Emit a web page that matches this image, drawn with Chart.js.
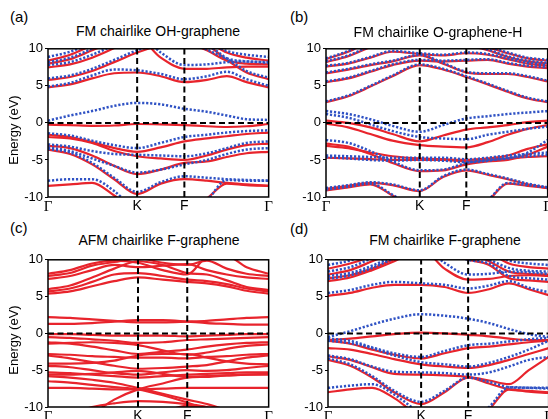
<!DOCTYPE html>
<html><head><meta charset="utf-8">
<script src="https://cdn.jsdelivr.net/npm/chart.js@4.4.1/dist/chart.umd.min.js"></script>
<style>
html,body{margin:0;padding:0;background:#fff;overflow:hidden;width:548px;height:419px;}
.cv{position:absolute;}
.lab{position:absolute;font-family:"Liberation Sans",Arial,sans-serif;color:#000;white-space:nowrap;line-height:1;}
</style></head><body>
<canvas id="ca" class="cv"></canvas>
<canvas id="cb" class="cv"></canvas>
<canvas id="cc" class="cv"></canvas>
<canvas id="cd" class="cv"></canvas>
<div class="lab" style="left:10px;top:9px;font-size:15px;">(a)</div>
<div class="lab" style="left:290px;top:9px;font-size:15px;">(b)</div>
<div class="lab" style="left:10px;top:220px;font-size:15px;">(c)</div>
<div class="lab" style="left:290px;top:221px;font-size:15px;">(d)</div>
<div class="lab" style="left:158px;top:24px;font-size:14px;transform:translateX(-50%);">FM chairlike OH-graphene</div>
<div class="lab" style="left:438px;top:25px;font-size:14px;transform:translateX(-50%);">FM chairlike O-graphene-H</div>
<div class="lab" style="left:159px;top:233px;font-size:14px;transform:translateX(-50%);">AFM chairlike F-graphene</div>
<div class="lab" style="left:445px;top:233px;font-size:14px;transform:translateX(-50%);">FM chairlike F-graphene</div>
<div class="lab" style="left:13px;top:130px;font-size:13px;transform:translate(-50%,-50%) rotate(-90deg);">Energy (eV)</div>
<div class="lab" style="left:13px;top:340px;font-size:13px;transform:translate(-50%,-50%) rotate(-90deg);">Energy (eV)</div>
<script>
// ---- tick labels ----
const kLabels = ['Γ', 'K', 'F', 'Γ'];
const yTicks = [-10, -7.5, -5, -2.5, 0, 2.5, 5, 7.5, 10];

// ---- k-path sample positions (fraction of path) ----
const kpathA = [0, 0.1, 0.2, 0.3, 0.404, 0.511, 0.618, 0.72, 0.81, 0.9, 1];
const kpathB = [0, 0.1, 0.2, 0.3, 0.423, 0.528, 0.633, 0.73, 0.82, 0.91, 1];
const kpathC = [0, 0.1, 0.2, 0.3, 0.408, 0.52, 0.631, 0.72, 0.81, 0.9, 1];
const kpathD = [0, 0.1, 0.2, 0.3, 0.422, 0.528, 0.635, 0.73, 0.82, 0.91, 1];
const kposA = [0, 0.404, 0.618, 1];
const kposB = [0, 0.423, 0.633, 1];
const kposC = [0, 0.408, 0.631, 1];
const kposD = [0, 0.422, 0.635, 1];

// ---- (a) FM chairlike OH-graphene ----
const upA = [
 [-0.25,-0.3,-0.4,-0.35,-0.15,-0.2,-0.3,-0.45,-0.55,-0.45,-0.15],
 [-1.6,-1.9,-2.6,-3.4,-3.9,-3.3,-2.5,-2.1,-1.8,-1.5,-1.3],
 [-1.9,-2.1,-2.7,-3.8,-4.5,-4.8,-5.0,-4.4,-3.6,-3.0,-2.8],
 [-3.1,-3.4,-4.4,-5.8,-6.9,-6.3,-5.4,-5.2,-4.6,-4.1,-3.9],
 [-3.6,-4.2,-5.6,-7.6,-9.6,-8.2,-7.6,-7.8,-8.1,-8.3,-8.5],
 [-8.5,-8.3,-8.1,-9.8,-12,-13,-12,-10.2,-8.2,-8.4,-8.5],
 [4.8,5.2,6.0,6.7,6.8,6.3,5.5,5.8,6.3,5.5,4.8],
 [5.8,6.2,7.0,8.2,9.5,10.5,11,10.5,8.5,6.8,5.9],
 [7.5,7.9,8.8,10.1,11.5,8.8,7.3,7.3,7.5,7.6,7.6],
 [8.0,8.6,9.8,11,12,12,11,9.8,8.4,8.0,7.9],
 [8.4,9.2,10.5,12,12,12,12,11,9.5,8.8,8.4]
];
const downA = [
 [0.3,1.0,1.6,2.3,2.7,2.5,1.9,1.5,1.0,0.5,0.4],
 [-1.4,-1.7,-2.4,-3.0,-3.4,-2.7,-1.9,-1.6,-1.3,-1.1,-1.0],
 [-2.9,-3.2,-3.8,-4.2,-4.3,-4.4,-4.5,-4.1,-3.4,-2.7,-2.5],
 [-3.3,-3.8,-4.8,-5.8,-6.7,-6.3,-5.6,-5.0,-4.2,-3.6,-3.4],
 [-3.5,-4.0,-5.4,-7.4,-9.3,-8.0,-7.2,-7.4,-7.6,-7.7,-7.8],
 [-7.8,-7.6,-7.6,-9.2,-12,-13,-12,-10.4,-7.7,-7.8,-7.8],
 [4.9,5.4,6.4,7.2,7.1,6.6,5.9,6.3,6.9,5.9,5.0],
 [6.0,6.4,7.3,8.5,9.8,10.8,11,10.5,8.7,7.0,6.1],
 [7.8,8.2,9.2,10.5,12,9.5,7.8,7.9,8.2,8.3,8.1],
 [8.2,8.8,10.0,11.2,12,12,11,9.9,8.7,8.3,8.2],
 [8.9,9.6,10.8,12,12,12,12,11,9.7,9.2,8.9]
];

// ---- (b) FM chairlike O-graphene-H ----
const upB = [
 [2.8,3.6,4.9,6.3,7.8,7.2,6.2,5.2,4.2,3.3,2.8],
 [5.5,6.0,6.9,7.8,8.4,8.3,8.4,8.5,8.0,7.6,7.4],
 [6.7,7.2,7.8,8.3,9.1,8.0,6.8,6.6,6.6,6.2,5.6],
 [7.6,8.0,8.8,9.6,9.3,9.1,9.4,9.2,8.6,8.0,7.7],
 [8.2,9.0,10.2,11,11,11,10.5,9.8,8.9,8.3,8.0],
 [8.6,9.6,11,12,12,12,11,10.2,9.4,8.7,8.4],
 [0.3,0.0,-0.6,-1.5,-2.5,-1.7,-0.9,-0.6,-0.3,0.1,0.3],
 [-0.1,-0.6,-1.5,-2.4,-3.0,-3.2,-3.3,-2.6,-1.6,-0.8,-0.3],
 [-2.8,-3.2,-4.2,-5.4,-6.5,-6.4,-5.6,-5.2,-5.0,-4.3,-3.2],
 [-3.1,-3.4,-4.0,-4.5,-4.8,-4.9,-5.0,-4.8,-4.4,-3.5,-2.9],
 [-4.7,-4.8,-4.9,-5.0,-5.0,-5.0,-5.2,-5.0,-4.8,-4.6,-4.5],
 [-8.9,-8.5,-8.1,-8.4,-9.2,-7.3,-6.4,-7.0,-7.6,-8.3,-8.8],
 [-9.1,-8.7,-8.3,-9.8,-12,-13,-12,-10.5,-8.2,-8.5,-8.8]
];
const downB = [
 [2.9,3.7,5.0,6.4,7.9,7.3,6.3,5.3,4.3,3.4,2.9],
 [5.6,6.1,7.0,7.9,8.5,8.4,8.5,8.6,8.1,7.7,7.5],
 [6.8,7.3,7.9,8.4,9.2,8.1,6.9,6.7,6.7,6.3,5.7],
 [7.7,8.1,8.9,9.7,9.4,9.2,9.5,9.3,8.7,8.1,7.8],
 [8.3,9.1,10.3,11,11,11,10.6,9.9,9.0,8.4,8.1],
 [8.7,9.7,11,12,12,12,11,10.3,9.5,8.8,8.5],
 [1.6,1.2,0.5,-0.4,-1.2,-0.3,0.6,0.9,1.2,1.4,1.6],
 [1.2,0.7,-0.2,-1.1,-1.9,-2.1,-2.2,-1.6,-1.2,-0.8,-0.5],
 [-2.3,-2.7,-3.8,-5.2,-6.4,-6.3,-5.4,-5.0,-4.8,-4.0,-2.3],
 [-4.4,-4.5,-4.6,-4.7,-4.7,-4.7,-4.9,-4.7,-4.4,-4.2,-4.0],
 [-4.6,-4.8,-5.0,-5.1,-5.0,-5.1,-5.3,-5.1,-4.7,-4.5,-4.3],
 [-8.8,-8.4,-8.0,-8.3,-9.1,-7.2,-6.3,-6.9,-7.5,-8.2,-8.7],
 [-9.0,-8.6,-8.2,-9.7,-12,-13,-12,-10.4,-8.1,-8.4,-8.7]
];

// ---- (c) AFM chairlike F-graphene (single spin set) ----
const upC = [
 [5.4,5.7,6.4,7.1,7.6,7.3,7.0,6.8,6.4,5.8,5.4],
 [5.7,6.1,7.0,8.0,8.2,7.8,7.3,7.1,6.7,6.1,5.7],
 [6.0,6.5,7.6,8.8,9.8,9.3,8.2,8.0,7.2,6.3,5.9],
 [7.4,7.8,8.6,9.3,9.0,9.2,9.4,8.6,8.0,7.6,7.4],
 [7.8,8.2,9.2,9.7,10.2,9.6,9.3,9.9,8.8,8.1,7.8],
 [8.1,8.6,9.5,9.9,9.6,8.6,8.0,10.3,10.5,9.0,8.1],
 [2.2,2.1,1.9,1.7,1.5,1.5,1.6,1.7,1.9,2.1,2.2],
 [1.3,1.3,1.4,1.6,1.8,1.8,1.6,1.4,1.3,1.2,1.2],
 [-0.1,-0.1,-0.2,-0.3,-0.3,-0.3,-0.4,-0.3,-0.2,-0.1,-0.1],
 [-0.5,-0.6,-0.8,-1.0,-1.3,-1.2,-0.9,-0.8,-0.7,-0.6,-0.5],
 [-1.2,-1.4,-1.8,-2.3,-2.8,-2.5,-2.2,-1.8,-1.5,-1.3,-1.2],
 [-1.4,-1.3,-1.2,-1.3,-1.6,-2.3,-2.9,-2.6,-2.1,-1.7,-1.5],
 [-2.8,-2.9,-3.1,-3.2,-3.3,-3.3,-3.4,-3.2,-3.1,-2.9,-2.8],
 [-3.0,-3.4,-3.9,-4.4,-4.8,-4.7,-4.5,-4.3,-3.8,-3.3,-3.0],
 [-4.1,-4.1,-4.0,-3.7,-3.0,-2.8,-2.8,-3.3,-3.8,-4.1,-4.2],
 [-4.4,-4.6,-5.0,-5.4,-5.6,-5.3,-5.0,-5.1,-5.0,-4.7,-4.4],
 [-5.3,-5.4,-5.6,-5.8,-6.0,-5.8,-5.6,-5.5,-5.4,-5.3,-5.3],
 [-5.6,-5.6,-5.5,-5.3,-5.1,-5.5,-5.9,-5.8,-5.7,-5.6,-5.6],
 [-5.8,-6.0,-6.3,-6.7,-7.4,-8.2,-9.0,-9.6,-10.5,-12,-12],
 [-7.4,-7.4,-7.5,-7.6,-7.6,-7.5,-7.4,-7.4,-7.4,-7.4,-7.4],
 [-14,-13,-11.0,-9.0,-7.6,-6.8,-6.0,-5.9,-5.7,-5.6,-5.5],
 [-6.5,-6.7,-7.0,-7.3,-7.6,-8.4,-9.4,-10.5,-12,-13,-14],
 [-12,-11,-10,-9.5,-9.2,-9.3,-9.6,-10.0,-11,-12,-12],
 [-13,-13,-13,-13,-12,-10.8,-9.8,-10.3,-11,-12,-13]
];
const downC = [];

// ---- (d) FM chairlike F-graphene ----
const upD = [
 [-0.9,-0.7,-0.4,-0.1,0.1,0.0,-0.2,-0.4,-0.7,-0.9,-0.9],
 [-1.0,-1.4,-2.2,-2.9,-3.4,-2.7,-2.0,-1.8,-1.5,-1.2,-1.0],
 [-2.0,-2.2,-2.8,-3.5,-4.2,-4.5,-4.7,-4.3,-3.6,-2.8,-2.0],
 [-3.1,-3.6,-4.6,-5.5,-5.6,-5.7,-5.9,-6.4,-6.9,-5.0,-3.2],
 [-3.6,-4.4,-6.0,-8.0,-9.6,-8.0,-6.0,-6.8,-7.6,-7.8,-8.0],
 [-8.0,-7.6,-7.4,-8.8,-11.5,-13,-12,-10.3,-7.6,-7.9,-8.1],
 [5.1,5.5,6.2,6.6,6.6,6.3,5.5,6.0,6.8,6.0,5.2],
 [7.1,7.6,8.6,9.8,11.5,11,10,9.3,7.5,7.2,7.0],
 [7.5,7.9,8.8,10.1,11.5,8.8,7.3,7.4,7.8,7.9,7.8],
 [8.0,8.6,9.8,11,12,12,11,9.8,8.4,8.1,8.0],
 [8.8,9.5,10.5,12,12,12,12,11,9.5,9.0,8.8]
];
const downD = [
 [-0.5,0.3,1.2,2.0,2.6,2.4,2.0,1.4,0.6,-0.1,-0.5],
 [-0.7,-1.0,-1.9,-2.7,-3.2,-2.4,-1.6,-1.4,-1.1,-0.8,-0.6],
 [-1.0,-1.3,-2.0,-3.0,-3.9,-4.2,-4.5,-4.0,-3.2,-2.2,-1.0],
 [-3.0,-3.5,-4.5,-5.2,-5.3,-5.4,-5.6,-5.3,-4.5,-3.6,-3.2],
 [-3.4,-4.2,-5.8,-7.8,-9.3,-7.8,-6.0,-6.6,-7.3,-7.4,-7.4],
 [-7.4,-7.1,-6.9,-8.3,-11,-13,-12,-10.0,-7.3,-7.4,-7.5],
 [5.5,5.9,6.6,7.0,6.8,6.6,6.1,6.5,7.1,6.2,5.6],
 [7.4,7.9,8.9,10.2,11.5,11,10,9.5,7.8,7.5,7.3],
 [7.8,8.2,9.2,10.5,12,9.6,8.0,8.1,8.4,8.3,8.1],
 [8.4,9.0,10.2,11.2,12,12,11,10,8.9,8.5,8.4],
 [9.3,9.9,11,12,12,12,12,11,9.9,9.5,9.3]
];

// ---- layout / styling (not data) ----
const panels = [
  {id:'ca', box:[48,45,270,197], kpath:kpathA, kpos:kposA, up:upA, down:downA},
  {id:'cb', box:[326,45,549,197], kpath:kpathB, kpos:kposB, up:upB, down:downB},
  {id:'cc', box:[48,256,270,407], kpath:kpathC, kpos:kposC, up:upC, down:downC},
  {id:'cd', box:[328,256,550,407], kpath:kpathD, kpos:kposD, up:upD, down:downD}
];
const RED = '#e8242c', BLUE = '#2f52c4';
const SANS = '"Liberation Sans", Arial, sans-serif';
const SERIF = '"Liberation Serif", "Times New Roman", serif';
const PADT = 6, PADR = 4, YW = 48, XH = 18;

const framePlugin = {
  id: 'frame',
  afterDatasetsDraw(chart) {
    const a = chart.chartArea, c = chart.ctx;
    c.save();
    c.strokeStyle = '#000';
    c.lineWidth = 1.5;
    c.strokeRect(a.left, a.top, a.right - a.left, a.bottom - a.top);
    c.restore();
  }
};

panels.forEach(p => {
  const [L, T, R, B] = p.box;
  const cv = document.getElementById(p.id);
  const W = R - L + YW + PADR, H = B - T + PADT + XH;
  cv.width = W; cv.height = H;
  cv.style.left = (L - YW) + 'px';
  cv.style.top = (T - PADT) + 'px';
  cv.style.width = W + 'px'; cv.style.height = H + 'px';

  const ds = [];
  const dashStyle = {borderColor:'#000', borderWidth:2, borderDash:[6,3.5], pointRadius:0, tension:0, fill:false};
  ds.push(Object.assign({data:[{x:0,y:0},{x:1,y:0}]}, dashStyle));
  ds.push(Object.assign({data:[{x:p.kpos[1],y:-10},{x:p.kpos[1],y:10}]}, dashStyle));
  ds.push(Object.assign({data:[{x:p.kpos[2],y:-10},{x:p.kpos[2],y:10}]}, dashStyle));
  p.down.forEach(band => ds.push({
    data: band.map((e,i) => ({x:p.kpath[i], y:e})),
    borderColor: BLUE, borderWidth: 2.5, borderDash:[2.2,1.8], borderCapStyle:'butt',
    pointRadius:0, cubicInterpolationMode:'monotone', fill:false
  }));
  p.up.forEach(band => ds.push({
    data: band.map((e,i) => ({x:p.kpath[i], y:e})),
    borderColor: RED, borderWidth: 2.2, pointRadius:0,
    cubicInterpolationMode:'monotone', fill:false
  }));

  new Chart(cv, {
    type: 'line',
    data: {datasets: ds},
    plugins: [framePlugin],
    options: {
      responsive:false, animation:false, devicePixelRatio:1,
      layout: {padding:{top:PADT, right:PADR, left:0, bottom:0}},
      plugins: {legend:{display:false}, tooltip:{enabled:false}},
      elements: {line:{borderJoinStyle:'round'}},
      scales: {
        x: {
          type:'linear', min:0, max:1,
          afterBuildTicks: s => { s.ticks = p.kpos.map(v => ({value:v})); },
          afterFit: s => { s.height = XH; },
          grid: {display:false, drawTicks:false},
          border: {display:false},
          ticks: {
            autoSkip:false, maxRotation:0, padding:1, color:'#000',
            callback: (v, i) => kLabels[i],
            font: ctx => (ctx.index === 0 || ctx.index === 3) ? {family:SERIF, size:15} : {family:SANS, size:14}
          }
        },
        y: {
          type:'linear', min:-10, max:10,
          afterBuildTicks: s => { s.ticks = yTicks.map(v => ({value:v})); },
          afterFit: s => { s.width = YW; },
          grid: {drawOnChartArea:false, drawTicks:true, tickLength:3, color:'#000', lineWidth:1},
          border: {display:false},
          ticks: {
            padding:2, color:'#000', font:{family:SANS, size:13},
            callback: v => (v % 5 === 0 ? String(v) : '')
          }
        }
      }
    }
  });
});
</script>
</body></html>
